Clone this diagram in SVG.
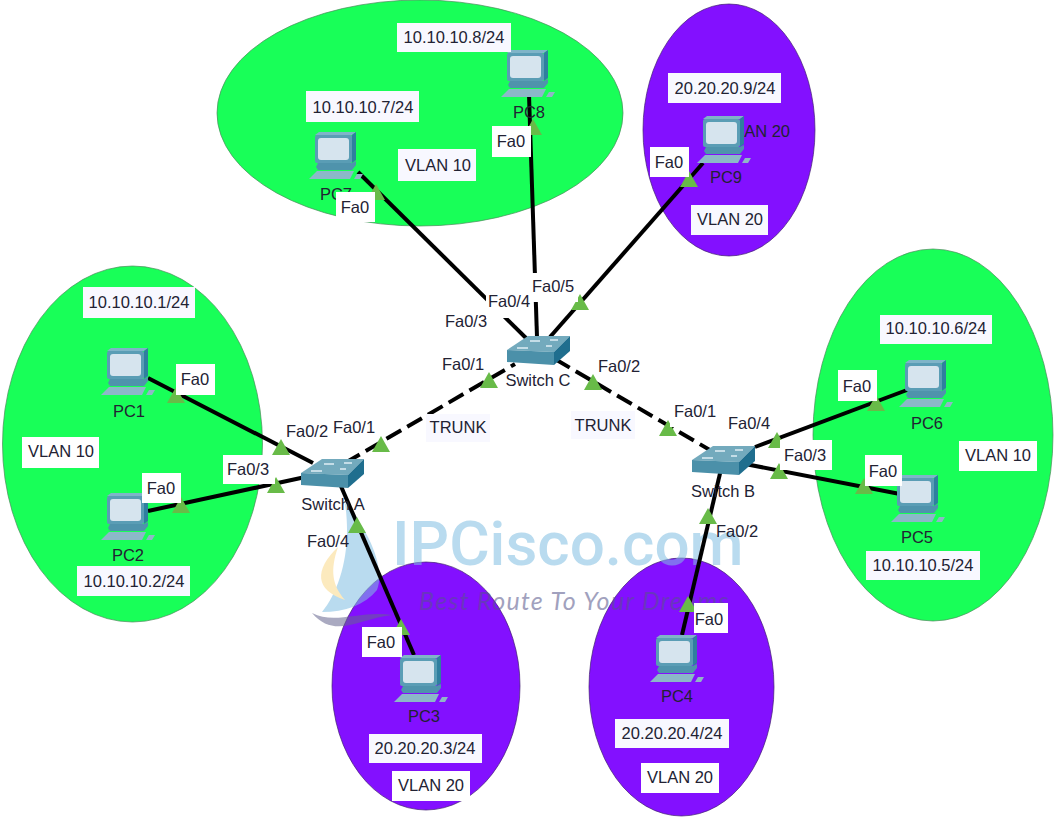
<svg xmlns="http://www.w3.org/2000/svg" width="1057" height="823" viewBox="0 0 1057 823">
<style>
text{font-family:"Liberation Sans",Arial,sans-serif;font-size:16.5px;fill:#222233}
.g{fill:#18ff58;stroke:#4a8a5a;stroke-width:.7}
.p{fill:#8310ff;stroke:#402070;stroke-width:.7}
.lb{fill:#fff}
.lbt{fill:#f8f8ff}
.c{stroke:#000;stroke-width:4;fill:none}
.t{stroke-dasharray:17 7}
.tri{fill:#68bb48}
.m{text-anchor:middle}
</style>
<defs>
<g id="pc">
<path d="M-18-22L-14-25H23L19-22Z" fill="#7fb4c8"/>
<path d="M19-22L23-25V3L19 6Z" fill="#2f7f9f"/>
<rect x="-18" y="-22" width="37" height="28" rx="2" fill="#5a9db5"/>
<rect x="-15" y="-19" width="31" height="22" rx="3" fill="#d6e4ee"/>
<path d="M-15 6H19L23 4V8L19 13H-15L-17 10Z" fill="#4f93ac"/>
<path d="M-24 22L-16 14H21L17 22Z" fill="#8cb8c8"/>
<path d="M21 22L24 17H30L27 22Z" fill="#8fb6c6"/>
</g>
<g id="sw">
<path d="M-31-6L-10-20H32L16-4Z" fill="#73aabd"/>
<path d="M-31-6L16-4V9L-31 6Z" fill="#4b90a9"/>
<path d="M16-4L32-20V-5L16 9Z" fill="#1f6e8e"/>
<path d="M-8-15H2M12-16H20M-21-8H-10M8-10H14" stroke="#dfeef5" stroke-width="1.3" fill="none"/>
</g>
<path id="tr" d="M0-11L9 5H-9Z"/>
</defs>
<g id="zones">
<ellipse class="g" cx="132.500" cy="444" rx="130" ry="178"/>
<ellipse class="g" cx="420" cy="113" rx="203" ry="113"/>
<ellipse class="p" cx="729" cy="130" rx="86" ry="126"/>
<ellipse class="g" cx="933" cy="435" rx="120" ry="186"/>
<ellipse class="p" cx="426" cy="686" rx="94" ry="124"/>
<ellipse class="p" cx="681.500" cy="687" rx="92.500" ry="129"/>
</g>
<g id="watermark" opacity=".55">
<path d="M345 503C372 535 385 570 377 590C365 605 345 612 322 612C340 590 352 550 345 503Z" fill="#80bfe2"/>
<path d="M338 547C314 570 315 590 345 600C332 585 330 570 338 547Z" fill="#fbd98a"/>
<path d="M312 613C335 625 360 610 393 615C360 618 335 640 312 613Z" fill="#66668f"/>
<text x="392" y="565" style="font-family:Roboto,sans-serif;font-size:62px;font-weight:500;fill:#80bfe2">IPCisco.com</text>
<text x="419" y="610" style="font-family:Lato,sans-serif;font-size:25px;font-style:italic;fill:#55558a;letter-spacing:1.300px">Best Route To Your Dreams</text>
</g>
<text x="724" y="137">VLAN 20</text>
<g id="connectors">
<path class="c" d="M148 378L313 463"/>
<path class="c" d="M148 511L310 476"/>
<path class="c t" d="M345 463L515 364"/>
<path class="c" d="M337 477L414 655"/>
<path class="c t" d="M555 359L715 453"/>
<path class="c" d="M722 465L682 635"/>
<path class="c" d="M755 447L907 390"/>
<path class="c" d="M740 463L900 494"/>
<path class="c" d="M358 172L527 339"/>
<path class="c" d="M529 95L537 337"/>
<path class="c" d="M703 163L550 337"/>
</g>
<g id="link-lights" class="tri">
<use href="#tr" x="176" y="398"/><use href="#tr" x="281" y="450"/><use href="#tr" x="181" y="508"/><use href="#tr" x="276" y="488"/>
<use href="#tr" x="381" y="447"/><use href="#tr" x="489" y="383"/><use href="#tr" x="593" y="385"/><use href="#tr" x="668" y="431"/>
<use href="#tr" x="357" y="528"/><use href="#tr" x="401" y="630"/><use href="#tr" x="708" y="519"/><use href="#tr" x="688" y="607"/>
<use href="#tr" x="777" y="443"/><use href="#tr" x="876" y="406"/><use href="#tr" x="779" y="474"/><use href="#tr" x="864" y="489"/>
<use href="#tr" x="376" y="195"/><use href="#tr" x="533" y="130"/>
<use href="#tr" x="689" y="182"/><use href="#tr" x="580" y="305"/>
</g>
<g id="PC1"><use href="#pc" x="125" y="373"/><text class="m" x="129" y="417">PC1</text></g>
<g id="PC2"><use href="#pc" x="125" y="518"/><text class="m" x="128" y="561">PC2</text></g>
<g id="PC3"><use href="#pc" x="418" y="680"/><text class="m" x="424" y="722">PC3</text></g>
<g id="PC4"><use href="#pc" x="674" y="660"/><text class="m" x="677" y="702">PC4</text></g>
<g id="PC5"><use href="#pc" x="915" y="500"/><text class="m" x="917" y="543">PC5</text></g>
<g id="PC6"><use href="#pc" x="923" y="385"/><text class="m" x="927" y="429">PC6</text></g>
<g id="PC7"><use href="#pc" x="333" y="157"/><text class="m" x="336" y="200">PC7</text></g>
<g id="PC8"><use href="#pc" x="525" y="75"/><text class="m" x="529" y="118">PC8</text></g>
<g id="PC9"><use href="#pc" x="721" y="141"/><text class="m" x="726" y="183">PC9</text></g>
<g id="SwitchA"><use href="#sw" x="332" y="479"/><text class="m" x="333" y="510">Switch A</text></g>
<g id="SwitchB"><use href="#sw" x="723" y="466"/><text class="m" x="723" y="497">Switch B</text></g>
<g id="SwitchC"><use href="#sw" x="538" y="356"/><text class="m" x="538" y="386">Switch C</text></g>
<g id="labels">
<rect class="lbt" x="83" y="287" width="112" height="31"/><text class="m" x="139" y="308">10.10.10.1/24</text>
<rect class="lb" x="22" y="437" width="77" height="31"/><text class="m" x="61" y="457">VLAN 10</text>
<rect class="lbt" x="77" y="566" width="113" height="30"/><text class="m" x="134" y="587">10.10.10.2/24</text>
<rect class="lb" x="176" y="364" width="39" height="31"/><text class="m" x="195" y="385">Fa0</text>
<rect class="lb" x="142" y="473" width="39" height="30"/><text class="m" x="161" y="494">Fa0</text>
<text class="m" x="307" y="437">Fa0/2</text><text class="m" x="354" y="433">Fa0/1</text>
<rect class="lb" x="223" y="455" width="52" height="29"/><text class="m" x="248" y="475">Fa0/3</text>
<text class="m" x="328" y="547">Fa0/4</text>
<rect class="lbt" x="426" y="414" width="64" height="28"/><text class="m" x="458" y="433">TRUNK</text>
<rect class="lbt" x="571" y="411" width="64" height="28"/><text class="m" x="603" y="431">TRUNK</text>
<rect class="lb" x="362" y="627" width="40" height="30"/><text class="m" x="381" y="648">Fa0</text>
<rect class="lbt" x="369" y="734" width="113" height="29"/><text class="m" x="425" y="754">20.20.20.3/24</text>
<rect class="lb" x="392" y="771" width="78" height="30"/><text class="m" x="431" y="791">VLAN 20</text>
<rect class="lb" x="694" y="603" width="34" height="30"/><text class="m" x="709" y="625">Fa0</text>
<rect class="lbt" x="615" y="719" width="114" height="29"/><text class="m" x="672" y="739">20.20.20.4/24</text>
<rect class="lb" x="641" y="763" width="78" height="30"/><text class="m" x="680" y="783">VLAN 20</text>
<text class="m" x="737" y="537">Fa0/2</text>
<rect class="lb" x="670" y="400" width="48" height="27"/><text class="m" x="695" y="417">Fa0/1</text>
<text class="m" x="749" y="429">Fa0/4</text>
<rect class="lb" x="780" y="440" width="52" height="30"/><text class="m" x="805" y="461">Fa0/3</text>
<rect class="lb" x="838" y="370" width="39" height="31"/><text class="m" x="857" y="392">Fa0</text>
<rect class="lb" x="865" y="455" width="37" height="31"/><text class="m" x="883" y="477">Fa0</text>
<rect class="lbt" x="880" y="315" width="112" height="29"/><text class="m" x="936" y="334">10.10.10.6/24</text>
<rect class="lb" x="959" y="441" width="78" height="30"/><text class="m" x="998" y="461">VLAN 10</text>
<rect class="lbt" x="866" y="551" width="114" height="29"/><text class="m" x="923" y="571">10.10.10.5/24</text>
<rect class="lbt" x="397" y="23" width="114" height="29"/><text class="m" x="454" y="43">10.10.10.8/24</text>
<rect class="lbt" x="306" y="91" width="113" height="31"/><text class="m" x="363" y="113">10.10.10.7/24</text>
<rect class="lbt" x="398" y="149" width="78" height="32"/><text class="m" x="438" y="171">VLAN 10</text>
<rect class="lb" x="336" y="192" width="39" height="30"/><text class="m" x="355" y="213">Fa0</text>
<rect class="lb" x="492" y="126" width="39" height="31"/><text class="m" x="511" y="147">Fa0</text>
<rect class="lbt" x="668" y="73" width="113" height="30"/><text class="m" x="725" y="94">20.20.20.9/24</text>
<rect class="lb" x="650" y="147" width="39" height="30"/><text class="m" x="669" y="168">Fa0</text>
<rect class="lbt" x="691" y="205" width="77" height="30"/><text class="m" x="730" y="225">VLAN 20</text>
<rect class="lb" x="443" y="310" width="46" height="28"/><text class="m" x="466" y="327">Fa0/3</text>
<rect class="lb" x="486" y="290" width="47" height="28"/><text class="m" x="509" y="307">Fa0/4</text>
<rect class="lb" x="530" y="273" width="48" height="29"/><text class="m" x="553" y="292">Fa0/5</text>
<text class="m" x="463" y="370">Fa0/1</text><text class="m" x="619" y="372">Fa0/2</text>
</g>
</svg>
